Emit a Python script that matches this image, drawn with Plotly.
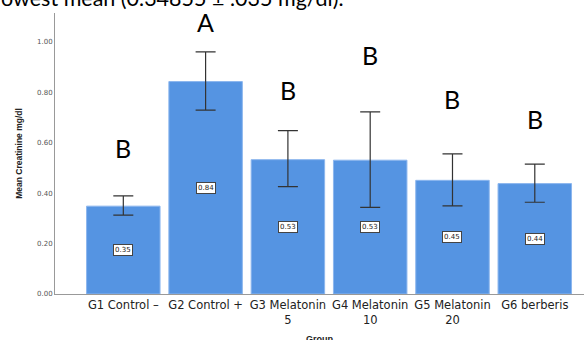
import plotly.graph_objects as go

groups = ["G1 Control –", "G2 Control +", "G3 Melatonin<br>5", "G4 Melatonin<br>10", "G5 Melatonin<br>20", "G6 berberis"]
means = [0.3486, 0.843, 0.533, 0.531, 0.451, 0.438]
ci_upper = [0.389, 0.961, 0.648, 0.723, 0.556, 0.515]
ci_lower = [0.313, 0.730, 0.426, 0.344, 0.350, 0.364]
letters = ["B", "A", "B", "B", "B", "B"]
letter_y = [0.579, 1.079, 0.81, 0.948, 0.774, 0.694]
y_ticks = [0.0, 0.2, 0.4, 0.6, 0.8, 1.0]

x = list(range(len(groups)))

fig = go.Figure()
fig.add_trace(go.Bar(
    x=x, y=means, width=0.893,
    marker=dict(color="#5594e2", line=dict(color="#8cb6ee", width=1)),
    error_y=dict(type="data", symmetric=False,
                 array=[u - m for u, m in zip(ci_upper, means)],
                 arrayminus=[m - l for m, l in zip(means, ci_lower)],
                 color="#333333", thickness=1.2, width=10),
    hoverinfo="skip",
))

annotations = []
for i, m in enumerate(means):
    annotations.append(dict(x=i, y=m / 2, xref="x", yref="y", text=f"{m:.2f}", showarrow=False,
                            font=dict(family="DejaVu Sans", size=7, color="#222"),
                            bgcolor="white", bordercolor="#444", borderwidth=1, borderpad=1))
for i, (l, ly) in enumerate(zip(letters, letter_y)):
    annotations.append(dict(x=i, y=ly, xref="x", yref="y", text=l, showarrow=False,
                            font=dict(family="Lato", size=25, color="black")))
annotations.append(dict(x=0, y=1, xref="paper", yref="paper", xanchor="left", yanchor="bottom",
                        xshift=-56, yshift=0, text="owest mean (0.34855 ± .035 mg/dl).", showarrow=False,
                        font=dict(family="Lato", size=21.5, color="black")))

fig.update_layout(
    width=584, height=344,
    margin=dict(l=55, r=0, t=13, b=50),
    plot_bgcolor="white", paper_bgcolor="white",
    showlegend=False,
    annotations=annotations,
    xaxis=dict(range=[-0.83, 5.598], tickmode="array", tickvals=x, ticktext=groups,
               showline=True, linecolor="#999", linewidth=1, ticks="", automargin=False,
               tickfont=dict(family="DejaVu Sans", size=11.5, color="#222"),
               title=dict(text="<b>Group</b>", font=dict(family="Liberation Sans", size=9, color="#222"), standoff=40),
               showgrid=False, zeroline=False),
    yaxis=dict(range=[0, 1.115], tickmode="array", tickvals=y_ticks,
               ticktext=[f"{v:.2f}" for v in y_ticks],
               showline=True, linecolor="#999", linewidth=1, ticks="", automargin=False,
               tickfont=dict(family="DejaVu Sans", size=7, color="#555"),
               title=dict(text="<b>Mean Creatinine mg/dl</b>", font=dict(family="Liberation Sans", size=8.5, color="#222"), standoff=13),
               showgrid=False, zeroline=False),
)

fig.write_html("out.html", config={"displayModeBar": False},
               post_script="document.body.style.margin='0';document.body.style.overflow='hidden';")
